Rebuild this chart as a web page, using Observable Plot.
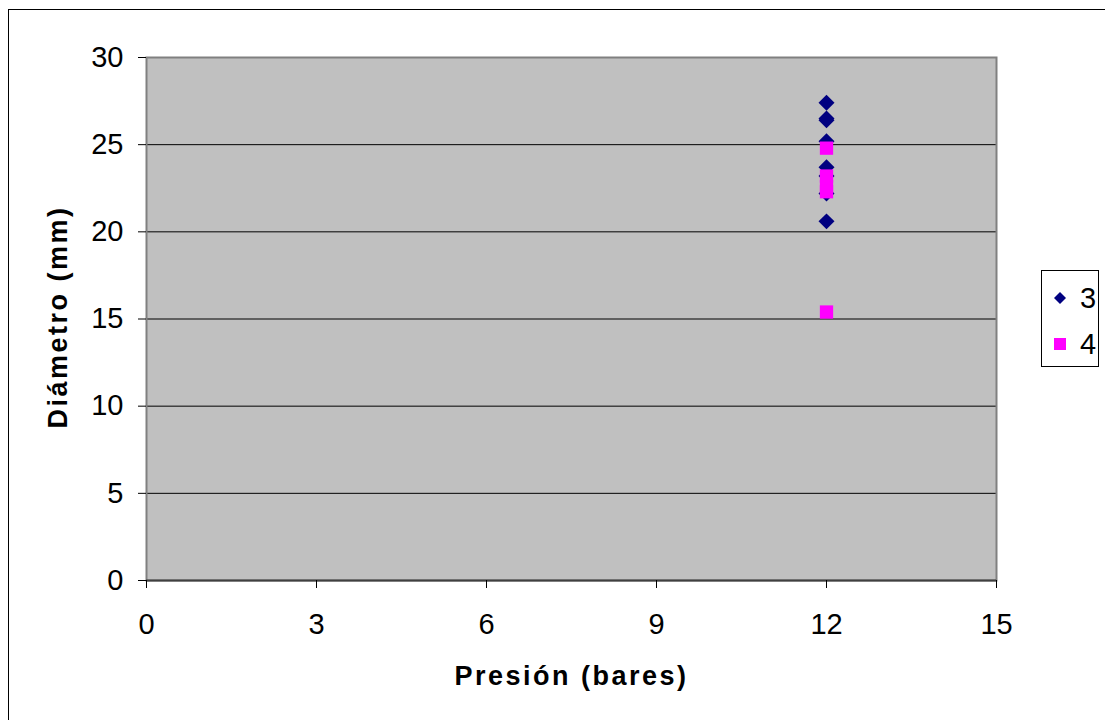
<!DOCTYPE html>
<html><head><meta charset="utf-8">
<script src="https://cdn.jsdelivr.net/npm/d3@7"></script>
<script src="https://cdn.jsdelivr.net/npm/@observablehq/plot@0.6"></script>
<style>
body{margin:0;background:#fff;}
#wrap{position:relative;width:1105px;height:720px;overflow:hidden;font-family:"Liberation Sans",Arial,sans-serif;}
#border{position:absolute;left:8px;top:9px;width:1200px;height:800px;border:1px solid #000;}
#chart{position:absolute;left:0;top:0;}
#chart g[aria-label="text"] text{letter-spacing:2.5px;}
#legend{position:absolute;left:1041px;top:270px;width:56px;height:95px;border:1px solid #000;background:#fff;}
.item{position:absolute;left:0;width:56px;height:30px;font-size:29px;line-height:30px;}
.item svg{position:absolute;left:11px;top:8px;}
.item span{position:absolute;left:38px;top:0;}
</style></head>
<body>
<div id="wrap"><div id="border"></div><div id="chart"></div>
<div id="legend"></div></div>
<script>
const seriesNames = ["3", "4"];
const seriesColors = ["#000080", "#FF00FF"];
const pressure3 = [12, 12, 12, 12, 12, 12, 12, 12];
const diameter3 = [27.4, 26.5, 26.4, 25.2, 23.7, 23.2, 22.2, 20.6];
const pressure4 = [12, 12, 12, 12, 12];
const diameter4 = [24.8, 23.2, 22.6, 22.3, 15.4];
const xTicks = [0, 3, 6, 9, 12, 15];
const yTicks = [0, 5, 10, 15, 20, 25, 30];
const xTitle = "Presión (bares)";
const yTitle = "Diámetro (mm)";

const s3 = pressure3.map((p, i) => ({p, d: diameter3[i]}));
const s4 = pressure4.map((p, i) => ({p, d: diameter4[i]}));

const chart = Plot.plot({
  width: 1105, height: 720,
  marginLeft: 146, marginRight: 109, marginTop: 57, marginBottom: 140,
  style: {fontFamily: '"Liberation Sans", Arial, sans-serif', fontSize: "29px", color: "#000", background: "transparent", overflow: "visible"},
  x: {domain: [0, 15]},
  y: {domain: [0, 30]},
  marks: [
    Plot.frame({fill: "#C0C0C0", stroke: null}),
    Plot.ruleY(yTicks.filter(v => v > 0 && v < 30), {stroke: "#000", strokeWidth: 1}),
    Plot.frame({stroke: "#808080", strokeWidth: 2}),
    Plot.ruleY([0], {stroke: "#404040", strokeWidth: 2}),
    Plot.axisX({ticks: xTicks, tickSize: 8, tickPadding: 25, label: null, fontSize: 29}),
    Plot.axisY({ticks: yTicks, tickSize: 8, tickPadding: 15, label: null, fontSize: 29}),
    Plot.text([xTitle], {frameAnchor: "bottom", dy: 96, lineAnchor: "middle", textAnchor: "middle", fontWeight: "bold", fontSize: 27}),
    Plot.text([yTitle], {frameAnchor: "left", dx: -88, dy: -2, rotate: -90, lineAnchor: "middle", textAnchor: "middle", fontWeight: "bold", fontSize: 27}),
    Plot.dot(s3, {x: "p", y: "d", symbol: "diamond2", r: 7.2, fill: seriesColors[0], stroke: "none"}),
    Plot.dot(s4, {x: "p", y: "d", symbol: "square", r: 7.5, fill: seriesColors[1], stroke: "none"})
  ]
});
document.getElementById("chart").appendChild(chart);

const legend = document.getElementById("legend");
const shapes = [
  '<svg width="14" height="14"><polygon points="7,1 13,7 7,13 1,7" fill="' + seriesColors[0] + '"/></svg>',
  '<svg width="14" height="14"><rect x="1" y="1" width="12" height="12" fill="' + seriesColors[1] + '"/></svg>'
];
seriesNames.forEach((name, i) => {
  const div = document.createElement("div");
  div.className = "item";
  div.style.top = (12 + i * 46) + "px";
  div.innerHTML = shapes[i] + "<span>" + name + "</span>";
  legend.appendChild(div);
});
</script>
</body></html>
